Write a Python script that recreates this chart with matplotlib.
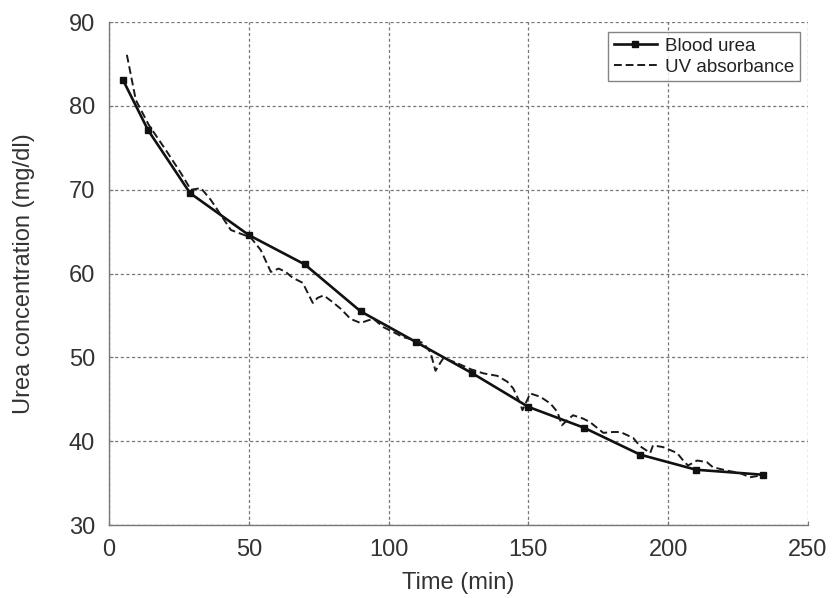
import matplotlib
matplotlib.use("Agg")
import matplotlib.pyplot as plt

plt.rcParams['font.family'] = ['Liberation Sans', 'DejaVu Sans']

# Blood urea samples (min, mg/dl)
time_blood = [5, 14, 29, 50, 70, 90, 110, 130, 150, 170, 190, 210, 234]
urea_blood = [83.1, 77.1, 69.6, 64.6, 61.1, 55.5, 51.8, 48.1, 44.1, 41.6, 38.4, 36.6, 36.0]

# Urea estimated from UV absorbance of spent dialysate
time_uv = [6.4, 9.6, 14.3, 20.4, 25.7, 29.3, 32.9, 36.4, 43.6, 50.7, 54.3, 56.8,
           57.9, 60.7, 63.2, 65.7, 69.3, 72.9, 74.6, 76.8, 80, 82.9, 86.4, 90,
           92.5, 94.6, 98.2, 101.8, 105.4, 108.9, 112.5, 115, 116.8, 118.6, 119.6,
           124, 129.3, 133.9, 138.9, 142.5, 144.6, 147, 147.9, 150.7, 154.3, 157.9,
           160.4, 162, 163.9, 166, 169.6, 172, 174.6, 176.8, 180.4, 182.9, 187.5,
           190, 193.6, 194.6, 198.2, 203.2, 205.4, 207.1, 210.4, 213.9, 216, 221,
           225.7, 229.3, 232.9]
urea_uv = [86.1, 80.7, 77.7, 74.7, 72.0, 70.0, 70.2, 68.8, 65.2, 64.3, 62.8, 61.0,
           60.2, 60.6, 60.2, 59.5, 58.9, 56.5, 57.1, 57.4, 56.6, 55.8, 54.6, 54.1,
           54.4, 54.6, 53.6, 53.0, 52.4, 52.1, 51.7, 50.6, 48.4, 49.4, 49.9,
           49.4, 48.6, 48.1, 47.8, 47.1, 46.3, 44.6, 43.7, 45.7, 45.3, 44.5,
           43.5, 41.9, 42.5, 43.1, 42.7, 42.3, 41.6, 41.0, 41.1, 41.1, 40.4,
           39.4, 38.6, 39.5, 39.3, 38.6, 37.7, 37.1, 37.7, 37.5, 36.9, 36.5,
           36.2, 35.7, 35.9]

x_ticks = [0, 50, 100, 150, 200, 250]
y_ticks = [30, 40, 50, 60, 70, 80, 90]

fig = plt.figure(figsize=(8.32, 5.98), dpi=100)
ax = fig.add_axes([0.131, 0.122, 0.840, 0.841])

ax.plot(time_blood, urea_blood, color='#111111', lw=1.9, marker='s', ms=4.5,
        label='Blood urea', zorder=3)
ax.plot(time_uv, urea_uv, color='#1a1a1a', lw=1.4, ls=(0, (4, 2)),
        label='UV absorbance', zorder=3)

ax.set_xlim(0, 250)
ax.set_ylim(30, 90)
ax.set_xticks(x_ticks)
ax.set_yticks(y_ticks)

ax.grid(True, color='#777777', lw=0.9, ls=(0, (2.5, 2)))
ax.set_axisbelow(True)
for side in ('top', 'right'):
    ax.spines[side].set_visible(False)
for side in ('left', 'bottom'):
    ax.spines[side].set_color('#777777')
    ax.spines[side].set_linewidth(1.0)

ax.tick_params(direction='in', length=3, color='#777777', labelsize=17,
               labelcolor='#333333', pad=10)

ax.set_xlabel('Time (min)', fontsize=17, color='#333333', labelpad=8)
ax.set_ylabel('Urea concentration (mg/dl)', fontsize=17, color='#333333', labelpad=24)

leg = ax.legend(loc='upper right', bbox_to_anchor=(0.989, 0.980), fontsize=13.5,
                frameon=True, fancybox=False, edgecolor='#666666',
                handlelength=2.3, handletextpad=0.45, borderpad=0.3,
                labelspacing=0.2, borderaxespad=0.0)
leg.get_frame().set_linewidth(1.0)
for txt in leg.get_texts():
    txt.set_color('#222222')

fig.savefig('out.png', dpi=100)
